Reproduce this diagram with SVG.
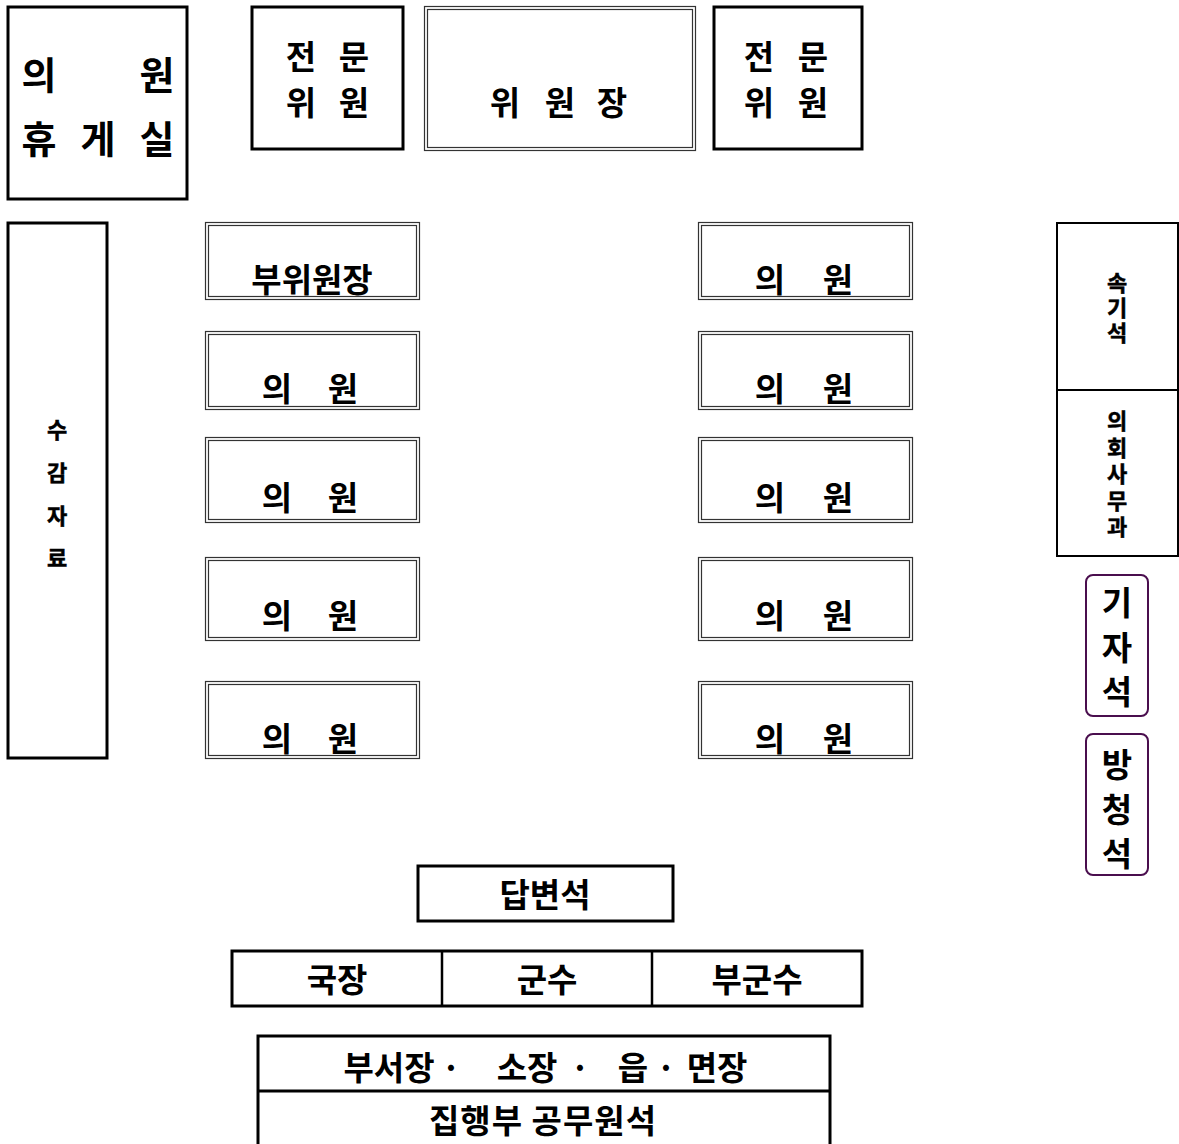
<svg xmlns="http://www.w3.org/2000/svg" width="1179" height="1144" viewBox="0 0 1179 1144">
<style>
.t{font-family:"Noto Sans CJK KR","Noto Sans",sans-serif;font-weight:bold;fill:#000;text-anchor:middle;dominant-baseline:central}
.L{font-size:38px}
.M{font-size:33px}
.S{font-size:22px;stroke:#000;stroke-width:0.5}
.v{writing-mode:vertical-rl;text-orientation:upright}
.box{fill:#fff;stroke:#000;stroke-width:3}
.thin{fill:none;stroke:#000;stroke-width:2}
.dbl{fill:#fff;stroke:#333;stroke-width:1.2}
.dbi{fill:none;stroke:#333;stroke-width:1.2}
.pur{fill:#fff;stroke:#4a0e4e;stroke-width:2}
</style>
<defs>
<g id="seat">
<rect class="dbl" x="0.5" y="0.5" width="214" height="77"/>
<rect class="dbi" x="3.5" y="3.5" width="208" height="71"/>
</g>
</defs>
<rect width="1179" height="1144" fill="#fff"/>

<g id="lounge">
<rect class="box" x="8" y="7" width="179" height="192"/>
<text class="t L" x="39" y="72">의</text>
<text class="t L" x="157" y="72">원</text>
<text class="t L" x="39" y="136">휴</text>
<text class="t L" x="98" y="136">게</text>
<text class="t L" x="157" y="136">실</text>
</g>

<g id="expert-left">
<rect class="box" x="252" y="7" width="151" height="142"/>
<text class="t M" x="301" y="55">전</text>
<text class="t M" x="354" y="55">문</text>
<text class="t M" x="301" y="101">위</text>
<text class="t M" x="354" y="101">원</text>
</g>

<g id="chair">
<rect class="dbl" x="424.5" y="6.5" width="271" height="144"/>
<rect class="dbi" x="427.5" y="9.5" width="265" height="138"/>
<text class="t M" x="505" y="101">위</text>
<text class="t M" x="560" y="101">원</text>
<text class="t M" x="612" y="101">장</text>
</g>

<g id="expert-right">
<rect class="box" x="714" y="7" width="148" height="142"/>
<text class="t M" x="759" y="55">전</text>
<text class="t M" x="813" y="55">문</text>
<text class="t M" x="759" y="101">위</text>
<text class="t M" x="813" y="101">원</text>
</g>

<g id="materials">
<rect class="box" x="8" y="223" width="99" height="535"/>
<text class="t S" x="57" y="428">수</text>
<text class="t S" x="57" y="471">감</text>
<text class="t S" x="57" y="514">자</text>
<text class="t S" x="57" y="556">료</text>
</g>

<g id="vice-chair">
<use href="#seat" x="205" y="222"/>
<text class="t M" x="312" y="278">부위원장</text>
</g>
<g id="member-l2">
<rect class="dbl" x="205.5" y="331.5" width="214" height="78"/>
<rect class="dbi" x="208.5" y="334.5" width="208" height="72"/>
<text class="t M" x="277" y="387">의</text><text class="t M" x="343" y="387">원</text>
</g>
<g id="member-l3">
<rect class="dbl" x="205.5" y="437.5" width="214" height="85"/>
<rect class="dbi" x="208.5" y="440.5" width="208" height="79"/>
<text class="t M" x="277" y="496">의</text><text class="t M" x="343" y="496">원</text>
</g>
<g id="member-l4">
<rect class="dbl" x="205.5" y="557.5" width="214" height="83"/>
<rect class="dbi" x="208.5" y="560.5" width="208" height="77"/>
<text class="t M" x="277" y="614">의</text><text class="t M" x="343" y="614">원</text>
</g>
<g id="member-l5">
<use href="#seat" x="205" y="681"/>
<text class="t M" x="277" y="737">의</text><text class="t M" x="343" y="737">원</text>
</g>

<g id="member-r1">
<use href="#seat" x="698" y="222"/>
<text class="t M" x="770" y="278">의</text><text class="t M" x="838" y="278">원</text>
</g>
<g id="member-r2">
<rect class="dbl" x="698.5" y="331.5" width="214" height="78"/>
<rect class="dbi" x="701.5" y="334.5" width="208" height="72"/>
<text class="t M" x="770" y="387">의</text><text class="t M" x="838" y="387">원</text>
</g>
<g id="member-r3">
<rect class="dbl" x="698.5" y="437.5" width="214" height="85"/>
<rect class="dbi" x="701.5" y="440.5" width="208" height="79"/>
<text class="t M" x="770" y="496">의</text><text class="t M" x="838" y="496">원</text>
</g>
<g id="member-r4">
<rect class="dbl" x="698.5" y="557.5" width="214" height="83"/>
<rect class="dbi" x="701.5" y="560.5" width="208" height="77"/>
<text class="t M" x="770" y="614">의</text><text class="t M" x="838" y="614">원</text>
</g>
<g id="member-r5">
<use href="#seat" x="698" y="681"/>
<text class="t M" x="770" y="737">의</text><text class="t M" x="838" y="737">원</text>
</g>

<g id="stenographer">
<rect class="thin" x="1057" y="223" width="121" height="167"/>
<text class="t S v" x="1117" y="309" style="letter-spacing:3px">속기석</text>
</g>
<g id="secretariat">
<rect class="thin" x="1057" y="390" width="121" height="166"/>
<text class="t S v" x="1117" y="476" style="letter-spacing:4.5px">의회사무과</text>
</g>

<g id="press">
<rect class="pur" x="1086" y="575" width="62" height="141" rx="7"/>
<text class="t M" x="1117" y="601">기</text>
<text class="t M" x="1117" y="646">자</text>
<text class="t M" x="1117" y="690">석</text>
</g>
<g id="gallery">
<rect class="pur" x="1086" y="734" width="62" height="141" rx="7"/>
<text class="t M" x="1117" y="763">방</text>
<text class="t M" x="1117" y="808">청</text>
<text class="t M" x="1117" y="852">석</text>
</g>

<g id="answer">
<rect class="box" x="418" y="866" width="255" height="55"/>
<text class="t M" x="545" y="893">답변석</text>
</g>

<g id="executives">
<rect class="box" x="232" y="951" width="630" height="55"/>
<line x1="442" y1="951" x2="442" y2="1006" stroke="#000" stroke-width="2.5"/>
<line x1="652" y1="951" x2="652" y2="1006" stroke="#000" stroke-width="2.5"/>
<text class="t M" x="337" y="978">국장</text>
<text class="t M" x="547" y="978">군수</text>
<text class="t M" x="757" y="978">부군수</text>
</g>

<g id="officials">
<rect class="box" x="258" y="1036" width="572" height="130"/>
<line x1="258" y1="1091" x2="830" y2="1091" stroke="#000" stroke-width="3"/>
<text class="t M" x="389" y="1066">부서장</text>
<text class="t M" x="451" y="1066">·</text>
<text class="t M" x="527" y="1066">소장</text>
<text class="t M" x="580" y="1066">·</text>
<text class="t M" x="633" y="1066">읍</text>
<text class="t M" x="666" y="1066">·</text>
<text class="t M" x="717" y="1066">면장</text>
<text class="t M" x="543" y="1119" style="letter-spacing:1px">집행부 공무원석</text>
</g>
</svg>
